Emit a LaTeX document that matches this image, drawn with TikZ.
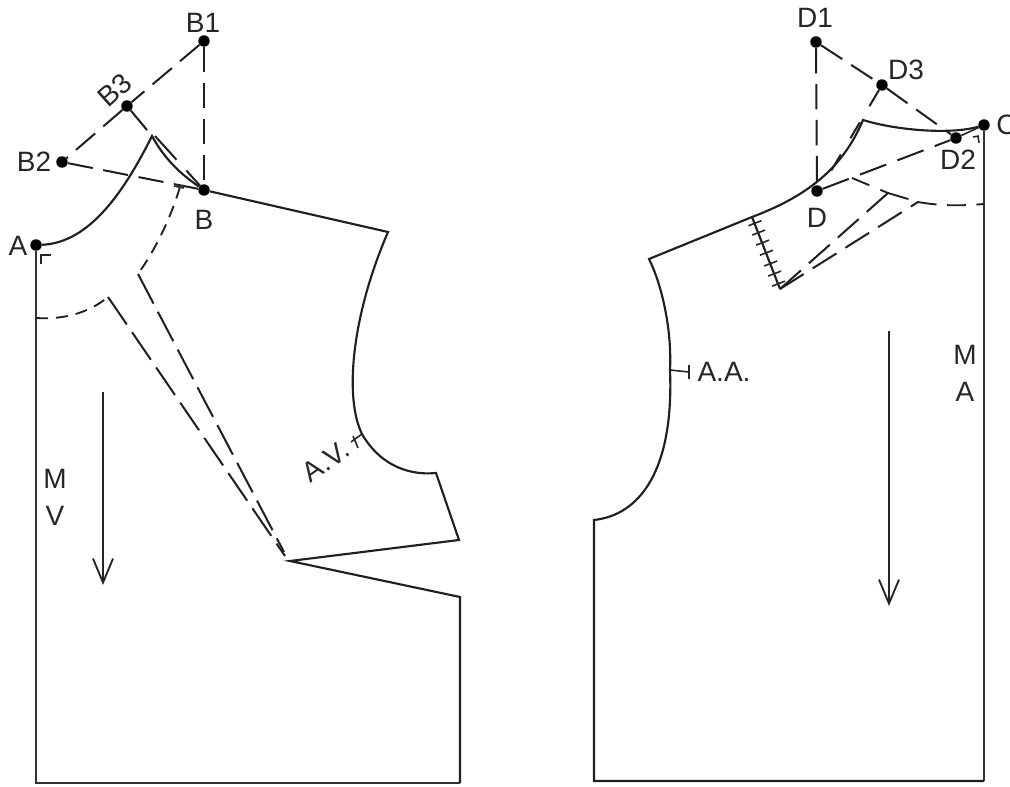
\documentclass[tikz,border=0pt]{standalone}
\usepackage{fontspec}
\setmainfont{Liberation Sans}
\usetikzlibrary{arrows.meta,calc}
\tikzset{
  dot/.style={circle,fill=black,inner sep=0pt,minimum size=8.6pt},
  lbl/.style={inner sep=0pt,font=\fontsize{21}{23}\selectfont,text=black!85},
  solidline/.style={line width=1.6pt,black!88,line join=miter},
  thickline/.style={line width=2.2pt,black!80},
  longdash/.style={line width=1.5pt,black!88,dash pattern=on 19pt off 8pt},
  middash/.style={line width=1.5pt,black!88,dash pattern=on 25pt off 7pt},
  shortdash/.style={line width=1.4pt,black!88,dash pattern=on 9pt off 6pt},
  thin tick/.style={line width=1.2pt,black!85},
  grainarrow/.style={line width=1.4pt,black!85,-{Straight Barb[length=18pt,width=15pt,line width=1.4pt]}},
}
\begin{document}
\begin{tikzpicture}[x=0.75pt,y=-0.75pt]
\useasboundingbox (0,0) rectangle (1010,787);
% ---------- left piece
\node[dot] (A) at (36,245) {};
\node[dot] (B) at (204,190) {};
\node[dot] (B1) at (204,41) {};
\node[dot] (B2) at (62,162) {};
\node[dot] (B3) at (127,106) {};
\coordinate (tipL) at (152,136);
\coordinate (tipLb) at (155,136);
\coordinate (BL1) at (36,783);
\coordinate (BL2) at (460,783);
\coordinate (BL3) at (460,597);
\coordinate (apex) at (290,561);
\coordinate (apexA) at (285,556);
\coordinate (apexB) at (284,552);
\coordinate (W1) at (459,540);
\coordinate (W2) at (436,473);
\coordinate (SL) at (388,232);
\coordinate (AVt) at (362,434);
\coordinate (NL1) at (36,318);
\coordinate (NL2) at (108,297);
\coordinate (NL3) at (180,187);
\coordinate (NL4) at (138,274);
\coordinate (arrL1) at (103,392);
\coordinate (arrL2) at (103,585);

\draw[thickline] (A) -- (BL1) -- (BL2);
\draw[solidline] (BL2) -- (BL3) -- (apex) -- (W1) -- (W2)
  .. controls (405,476) and (378,462) .. (AVt)
  .. controls (345,400) and (350,320) .. (SL) -- (B);
\draw[solidline] (A) .. controls (90,243) and (125,190) .. (tipL)
  .. controls (165,160) and (182,175) .. (B);
\draw[longdash,dash pattern=on 24pt off 11pt] (tipLb) -- (B);
\draw[longdash] (B1) -- (B);
\draw[longdash] (B1) -- (B3);
\draw[longdash] (B3) -- (B2);
\draw[longdash] (B2) -- (B);
\draw[longdash] (B3) -- (tipL);
\draw[shortdash] (NL3) .. controls (170,220) and (155,250) .. (NL4);
\draw[shortdash] (NL1) .. controls (65,320) and (90,312) .. (NL2);
\draw[middash] (NL4) -- (apexB);
\draw[middash] (NL2) -- (apexA);
\draw[thin tick] ($(NL3)+(-6,-1)$) -- ($(NL3)+(4,1)$);
\draw[thin tick] (41,264) -- (41,255) -- (51,255);
\draw[grainarrow] (arrL1) -- (arrL2);
\draw[thin tick] (AVt) -- (351,442);
\draw[thin tick] (353,436) -- (358,448);
\node[lbl] (lB1) at (203,23) {B1};
\node[lbl,rotate=42] (lB3) at (115,90) {B3};
\node[lbl] (lB2) at (34,162) {B2};
\node[lbl] (lB) at (204,220) {B};
\node[lbl] (lA) at (18,246) {A};
\node[lbl] (lM1) at (55,479) {M};
\node[lbl] (lV) at (55,516) {V};
\node[lbl,rotate=35] (lAV) at (326,461) {A.V.};
% ---------- right piece
\node[dot] (C) at (984,125) {};
\node[dot] (D) at (817,191) {};
\node[dot] (D1) at (816,42) {};
\node[dot] (D2) at (956,138) {};
\node[dot] (D3) at (882,85) {};
\coordinate (tipR) at (863,120);
\coordinate (SR) at (752,217);
\coordinate (SR0) at (649,259);
\coordinate (AA) at (670,370);
\coordinate (NR) at (594,520);
\coordinate (BR1) at (594,781);
\coordinate (BR2) at (984,781);
\coordinate (dartB) at (780,289);
\coordinate (NR1) at (852,178);
\coordinate (NR2) at (888,193);
\coordinate (NR3) at (918,202);
\coordinate (NR4) at (984,204);
\coordinate (lowD) at (828,176);
\coordinate (arrR1) at (889,331);
\coordinate (arrR2) at (889,606);

\draw[thickline] (C) -- (BR2);
\draw[solidline] (BR2) -- (BR1) -- (NR)
  .. controls (640,515) and (674,470) .. (AA)
  .. controls (672,330) and (662,285) .. (SR0) -- (SR)
  .. controls (805,197) and (842,170) .. (tipR)
  .. controls (895,130) and (950,135) .. (C);
\draw[solidline] (SR) -- (dartB);
\draw[longdash] (D1) -- (D);
\draw[longdash] (D1) -- (D3);
\draw[longdash] (D3) -- (D2);
\draw[middash,dash pattern=on 21pt off 9pt] (D) -- (D2);
\draw[thin tick] (D2) -- (C);
\draw[longdash,dash pattern=on 14pt off 14pt] (D3) -- (lowD);
\draw[shortdash,dash pattern=on 14pt off 9pt] (NR1) -- (NR2);
\draw[shortdash,dash pattern=on 16pt off 7pt] (NR2) -- (NR3);
\draw[shortdash,dash pattern=on 14pt off 8pt] (NR3) .. controls (940,206) and (960,206) .. (NR4);
\draw[middash,dash pattern=on 21pt off 8pt] (dartB) -- (NR2);
\draw[middash,dash pattern=on 21pt off 8pt] (dartB) -- (NR3);
\draw[thin tick] (978,136) -- (979,143);
\draw[thin tick] (973,137) -- (979,136);
\draw[grainarrow] (arrR1) -- (arrR2);
\draw[thin tick] (AA) -- (689,372);
\draw[thin tick] (689,365) -- (689,379);
\foreach \tA in {0.09,0.22,0.36,0.5,0.65,0.79,0.93}{
  \draw[thin tick] ($(SR)!\tA!(dartB)+(-6,2.2)$) -- ($(SR)!\tA!(dartB)+(7,-2.8)$);
}
\node[lbl] (lD1) at (815,18) {D1};
\node[lbl] (lD3) at (906,70) {D3};
\node[lbl] (lD2) at (958,160) {D2};
\node[lbl] (lD) at (817,218) {D};
\node[lbl,anchor=west] (lC) at (996,125) {C};
\node[lbl] (lAA) at (724,372) {A.A.};
\node[lbl] (lM2) at (965,355) {M};
\node[lbl] (lA2) at (965,392) {A};
\end{tikzpicture}
\end{document}
